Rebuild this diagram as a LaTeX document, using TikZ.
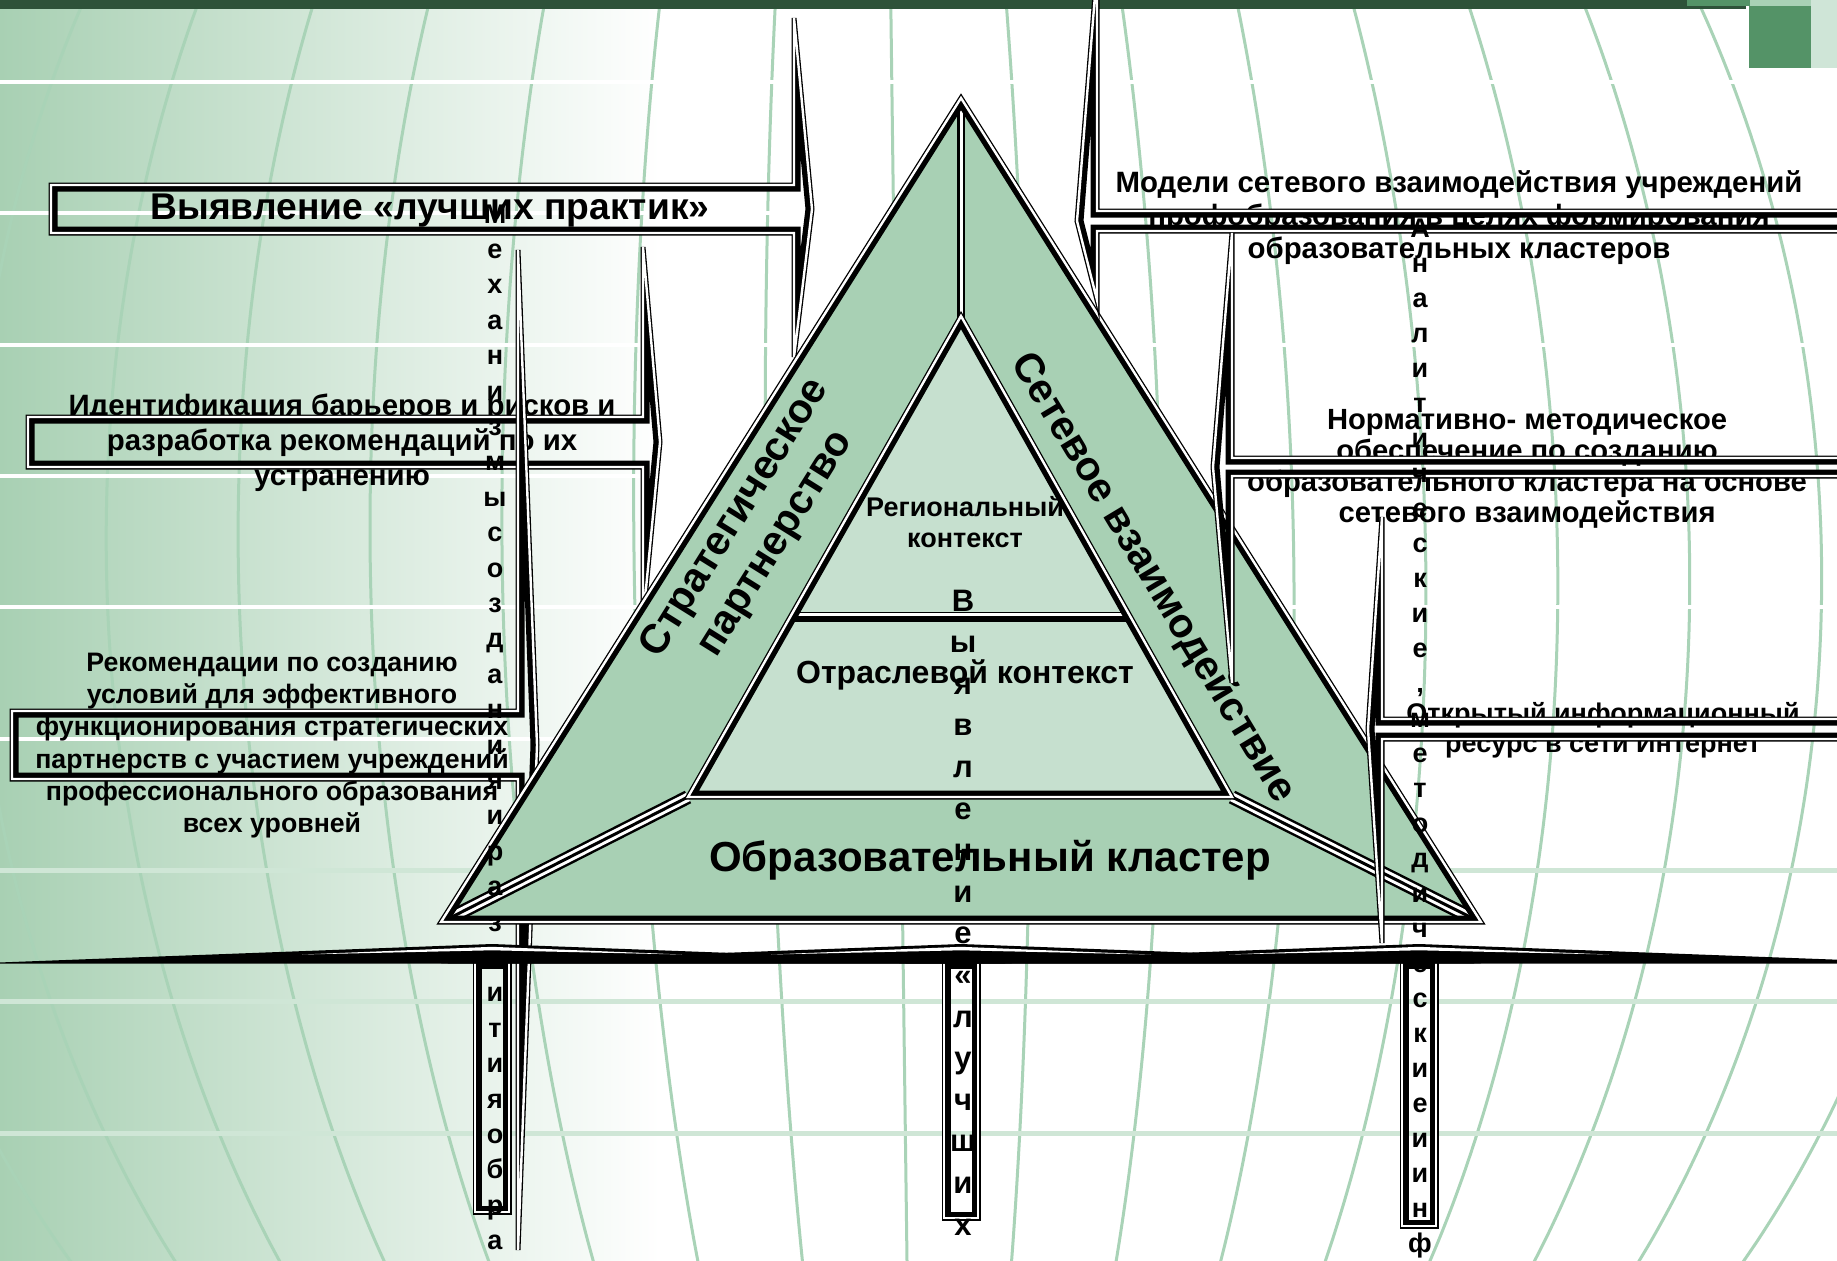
\documentclass[tikz,border=0pt]{standalone}
\usepackage{fontspec}
\setmainfont{Liberation Sans}
\definecolor{band}{HTML}{A8D0B4}
\definecolor{innerc}{HTML}{C6E0CF}
\definecolor{bgL}{HTML}{A8D0B3}
\definecolor{curvec}{HTML}{A9D3B7}
\definecolor{stripec}{HTML}{CFE6D6}
\definecolor{topbar}{HTML}{2E5239}
\definecolor{midg}{HTML}{549367}
\definecolor{lightg}{HTML}{A9D1B6}
\definecolor{paleg}{HTML}{CFE5D7}
\newcommand\cpoly[2]{%
  \path[fill=#1] #2;
  \begin{scope}\clip #2; \draw[line width=13pt, line join=miter] #2; \end{scope}
  \draw[line width=1.3pt, double=white, double distance=2.4pt, line join=miter] #2;
}
\newcommand\tripleline[2]{%
  \draw[line width=14pt] #1 -- #2;
  \draw[white, line width=9pt] #1 -- #2;
  \draw[line width=3pt] #1 -- #2;
}
\newcommand\chead[1]{%
  \fill[black] ({#1-520},963.5)--(#1,944)--({#1+520},963.5)--cycle;
}
\newcommand\clens[1]{%
  \fill[white] ({#1-190},954.5)--(#1,946.8)--({#1+190},954.5)--(#1,950.3)--cycle;
}
\begin{document}
\begin{tikzpicture}[x=1pt,y=-1pt,
  curve/.style={draw=curvec, line width=3pt},
  wstripe/.style={draw=white, line width=4pt},
  gstripe/.style={draw=stripec, line width=5pt},
  lbl/.style={inner sep=0pt, align=center, text=black},
  colA/.style={inner sep=0pt, anchor=base, font=\fontsize{27}{27}\selectfont\bfseries},
  colB/.style={inner sep=0pt, anchor=base, font=\fontsize{31}{31}\selectfont\bfseries}]
\useasboundingbox (0,0) rectangle (1837,1261);
\clip (0,0) rectangle (1837,1261);
\fill[white] (0,0) rectangle (1837,1261);
\shade[left color=bgL, right color=white] (0,0) rectangle (660,1261);
% globe meridians
\foreach \k in {-9,...,9}{
  \draw[curve] plot[domain=-10:1271, samples=41, smooth, variable=\t]
    ({891+0.0129*(\t-20)+116.5*\k*sqrt(1-((\t-560)/1150)*((\t-560)/1150))/0.883}, \t);
}
\foreach \y in {82,213,345,476,607,739} \draw[wstripe] (0,\y) -- (1837,\y);
\foreach \y in {870,1001,1133} \draw[gstripe] (0,\y) -- (1837,\y);
% top bar and corner
\fill[topbar] (0,0) rectangle (1746,9);
\fill[midg] (1687,0) rectangle (1750,6);
\fill[lightg] (1750,0) rectangle (1811,6);
\fill[midg] (1749,6) rectangle (1811,68);
\fill[paleg] (1811,0) rectangle (1837,68);

% left texts
\node[lbl, font=\fontsize{37.2}{43}\selectfont\bfseries] (ta1) at (430,211) {Выявление «лучших практик»};
\node[lbl, font=\fontsize{29.4}{35}\selectfont\bfseries] (ta2) at (342,443) {Идентификация барьеров и рисков и\\разработка рекомендаций по их\\устранению};
\node[lbl, font=\fontsize{26.7}{32.2}\selectfont\bfseries] (ta3) at (272,745.5) {Рекомендации по созданию\\условий для эффективного\\функционирования стратегических\\партнерств с участием учреждений\\профессионального образования\\всех уровней};
% left arrows
\cpoly{none}{(51,185)--(794,185)--(794,18)--(812,209)--(794,357)--(794,233)--(51,233)--cycle}
\cpoly{none}{(28,417)--(643,417)--(643,247)--(660,442)--(643,620)--(643,467)--(28,467)--cycle}
\cpoly{none}{(12,711)--(518,711)--(518,250)--(537,745)--(518,1250)--(518,779)--(12,779)--cycle}

% triangle
\fill[band] (961,98)--(441,922)--(1481,922)--cycle;
\begin{scope}
  \clip (961,98)--(441,922)--(1481,922)--cycle;
  \draw[line width=2.5pt, double=white, double distance=3pt] (961,80)--(961,318);
  \tripleline{(688,797)}{(436,925)}
  \tripleline{(1232,797)}{(1486,925)}
\end{scope}
\cpoly{none}{(961,98)--(441,922)--(1481,922)--cycle}
\fill[innerc] (961,316)--(1232,797)--(688,797)--cycle;
\begin{scope}
  \clip (961,316)--(1232,797)--(688,797)--cycle;
  \draw[white, line width=2.4pt] (600,614.45)--(1320,614.45);
  \draw[line width=1.3pt] (600,612.6)--(1320,612.6);
  \draw[line width=5.85pt] (600,618.6)--(1320,618.6);
\end{scope}
\cpoly{none}{(961,316)--(1232,797)--(688,797)--cycle}
\node[lbl, font=\fontsize{41}{48}\selectfont\bfseries, rotate=58] (tsp) at (756,531) {Стратегическое\\партнерство};
\node[lbl, font=\fontsize{41}{48}\selectfont\bfseries, rotate=-59] (tsv) at (1153,578) {Сетевое взаимодействие};
\node[lbl, font=\fontsize{27}{31}\selectfont\bfseries] (trc) at (965,522) {Региональный\\контекст};
\node[lbl, font=\fontsize{32}{36}\selectfont\bfseries] (toc) at (965,675) {Отраслевой контекст};
\node[lbl, font=\fontsize{42}{48}\selectfont\bfseries] (tok) at (990,860) {Образовательный кластер};

% right texts
\node[lbl, font=\fontsize{29.4}{33}\selectfont\bfseries] (tb1) at (1459,218) {Модели сетевого взаимодействия учреждений\\профобразования в целях формирования\\образовательных кластеров};
\node[lbl, font=\fontsize{29.2}{31}\selectfont\bfseries] (tb2) at (1527,469) {Нормативно- методическое\\обеспечение по созданию\\образовательного кластера на основе\\сетевого взаимодействия};
\node[lbl, font=\fontsize{27}{30}\selectfont\bfseries] (tb3) at (1603,730) {Открытый информационный\\ресурс в сети Интернет};
% right arrows
\cpoly{none}{(1860,211)--(1097,211)--(1097,-30)--(1077,221)--(1097,300)--(1097,231)--(1860,231)--cycle}
\cpoly{none}{(1860,458)--(1232,458)--(1232,233)--(1213,467)--(1232,683)--(1232,476)--(1860,476)--cycle}
\cpoly{none}{(1860,719)--(1382,719)--(1382,517)--(1368,729)--(1382,943)--(1382,739)--(1860,739)--cycle}

% bottom arrows: shafts, then flat heads
\cpoly{none}{(475,1212)--(475,962)--(509,962)--(509,1212)--cycle}
\cpoly{none}{(944,1218)--(944,962)--(978,962)--(978,1218)--cycle}
\cpoly{none}{(1402,1226)--(1402,962)--(1436,962)--(1436,1226)--cycle}
\chead{492}\chead{961}\chead{1419}
\clens{492}\clens{961}\clens{1419}

% stacked letters
\foreach \l [count=\i from 0] in {М,е,х,а,н,и,з,м,ы,с,о,з,д,а,н,и,я,и,р,а,з,в,и,т,и,я,о,б,р,а}
  \node[colA] (c1-\i) at (495,223+35.4*\i) {\l};
\foreach \l [count=\i from 0] in {В,ы,я,в,л,е,н,и,е,«,л,у,ч,ш,и,х}
  \node[colB] (c2-\i) at (963,611+41.6*\i) {\l};
\foreach \l [count=\i from 0] in {А,н,а,л,и,т,и,ч,е,с,к,и,е,{,},м,е,т,о,д,и,ч,е,с,к,и,е,и,и,н,ф}
  \node[colA] (c3-\i) at (1420,237+35*\i) {\l};
\end{tikzpicture}
\end{document}
